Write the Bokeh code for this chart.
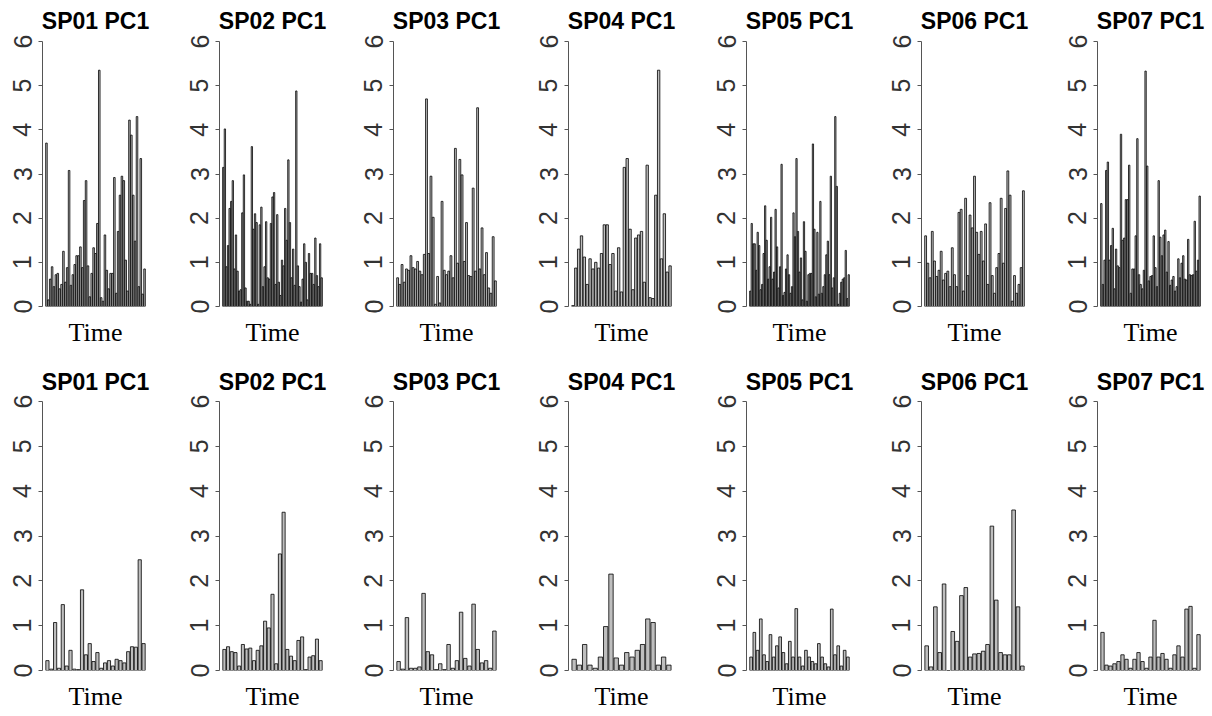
from bokeh.plotting import figure
from bokeh.layouts import row, column
from bokeh.models import Range1d, FixedTicker
from bokeh.embed import file_html
from bokeh.resources import INLINE

panel_titles = ["SP01 PC1", "SP02 PC1", "SP03 PC1", "SP04 PC1", "SP05 PC1", "SP06 PC1", "SP07 PC1"]
y_ticks = [0, 1, 2, 3, 4, 5, 6]
x_label = "Time"

top_sp01 = [3.7, 0.15, 0.62, 0.9, 0.45, 0.72, 0.75, 0.4, 0.5, 1.25, 0.55, 0.88, 3.08, 0.48, 0.72, 0.95,
            1.15, 1.15, 1.35, 0.88, 2.4, 2.85, 0.92, 0.22, 0.75, 1.33, 1.2, 1.88, 5.35, 0.2, 0.12, 1.62,
            0.82, 0.4, 0.75, 0.75, 2.92, 0.3, 1.7, 2.52, 2.95, 2.85, 1.05, 0.35, 4.22, 3.88, 2.52, 1.48,
            4.3, 0.45, 3.35, 0.28, 0.85]
top_sp02 = [3.15, 4.02, 0.9, 1.38, 2.22, 2.38, 2.85, 0.85, 1.62, 0.8, 0.35, 0.38, 2.12, 2.98, 0.42, 0.12,
            0.12, 0.05, 3.62, 1.75, 2.1, 1.9, 0.05, 1.85, 2.25, 0.45, 0.9, 1.92, 0.65, 0.62, 1.88, 2.48,
            2.58, 0.5, 2.08, 0.55, 0.25, 1.05, 0.92, 2.22, 1.5, 3.32, 1.9, 0.65, 1.3, 0.48, 4.88, 0.92,
            0.45, 0.1, 0.62, 1.42, 1.0, 0.15, 1.2, 0.75, 0.75, 0.5, 1.55, 0.7, 0.45, 1.42, 0.65]
top_sp03 = [0.65, 0.5, 0.95, 0.55, 0.85, 0.82, 1.15, 0.88, 0.85, 1.02, 0.8, 0.72, 1.18, 4.7, 1.2, 2.95,
            2.02, 0.05, 0.68, 0.08, 2.38, 0.82, 0.72, 0.8, 1.15, 0.65, 3.58, 0.98, 3.33, 2.98, 1.02, 1.9,
            0.7, 0.68, 2.68, 0.8, 4.5, 0.85, 1.78, 0.72, 1.22, 0.42, 0.3, 1.58, 0.58]
top_sp04 = [0.02, 0.87, 1.3, 1.6, 1.12, 0.5, 1.08, 0.85, 1.0, 0.87, 1.2, 1.85, 1.85, 0.95, 1.2, 0.35,
            1.33, 0.33, 3.15, 3.35, 1.75, 0.38, 1.55, 1.62, 1.7, 0.55, 3.2, 0.2, 0.18, 2.52, 5.35, 1.08,
            2.1, 0.78, 0.92]
top_sp05 = [0.35, 1.88, 1.42, 1.42, 0.82, 1.68, 1.38, 0.38, 0.5, 1.2, 2.28, 1.5, 0.62, 0.9, 2.02, 0.62,
            0.78, 2.2, 1.35, 0.42, 0.9, 3.22, 0.25, 0.32, 0.85, 1.17, 0.72, 0.3, 0.45, 2.12, 1.58, 3.35,
            1.7, 0.78, 1.1, 0.15, 1.92, 1.25, 0.12, 0.72, 0.75, 0.75, 3.68, 1.75, 0.22, 1.68, 0.28, 2.38,
            0.3, 0.45, 0.72, 1.17, 1.48, 0.72, 2.95, 0.42, 0.65, 4.3, 2.72, 0.05, 0.3, 0.55, 0.62, 0.65,
            1.27, 0.18, 0.72]
top_sp06 = [1.6, 0.98, 0.65, 1.7, 1.03, 0.68, 0.82, 1.25, 0.6, 0.75, 0.8, 0.45, 1.33, 0.72, 0.45, 2.13,
            2.2, 0.35, 2.45, 0.7, 2.07, 1.78, 2.95, 1.68, 1.18, 1.7, 1.03, 1.87, 0.5, 2.35, 0.7, 0.3,
            0.88, 1.2, 2.45, 0.98, 2.22, 3.07, 2.52, 0.12, 0.7, 0.3, 0.5, 0.88, 2.62]
top_sp07 = [2.33, 0.5, 1.05, 3.08, 3.27, 1.05, 1.38, 1.77, 0.4, 1.3, 0.92, 0.88, 3.9, 1.5, 1.55, 2.42,
            2.42, 3.2, 0.3, 0.85, 0.85, 1.6, 3.8, 0.72, 0.5, 0.4, 0.82, 5.33, 3.18, 0.58, 0.68, 0.7,
            1.6, 0.88, 0.45, 2.85, 1.57, 1.15, 1.62, 1.73, 0.78, 1.47, 0.48, 0.6, 0.68, 0.35, 0.45, 1.08,
            0.65, 0.98, 1.15, 0.62, 0.6, 1.52, 0.72, 0.7, 0.72, 1.93, 0.8, 1.05, 2.5]

bottom_sp01 = [0.22, 0.03, 1.07, 0.05, 1.47, 0.1, 0.45, 0.03, 0.02, 1.8, 0.35, 0.6, 0.2, 0.4, 0.05, 0.17,
               0.22, 0.1, 0.25, 0.22, 0.17, 0.42, 0.53, 0.52, 2.47, 0.6]
bottom_sp02 = [0.47, 0.53, 0.42, 0.4, 0.1, 0.58, 0.48, 0.5, 0.22, 0.45, 0.55, 1.1, 0.95, 1.7, 0.15, 2.6,
               3.53, 0.47, 0.32, 0.22, 0.67, 0.75, 0.02, 0.3, 0.33, 0.7, 0.22]
bottom_sp03 = [0.2, 0.03, 1.18, 0.05, 0.05, 0.08, 1.72, 0.42, 0.35, 0.02, 0.15, 0.02, 0.58, 0.05, 0.22, 1.3,
               0.27, 0.1, 1.48, 0.47, 0.17, 0.22, 0.05, 0.88]
bottom_sp04 = [0.25, 0.12, 0.58, 0.12, 0.05, 0.3, 0.98, 2.15, 0.28, 0.12, 0.4, 0.3, 0.45, 0.58, 1.15, 1.07,
               0.12, 0.3, 0.12]
bottom_sp05 = [0.3, 0.85, 0.45, 1.15, 0.35, 0.2, 0.8, 0.3, 0.55, 0.75, 0.4, 0.15, 0.65, 0.3, 1.38, 0.3,
               0.1, 0.45, 0.3, 0.2, 0.15, 0.6, 0.3, 0.15, 0.08, 1.37, 0.35, 0.55, 0.1, 0.45, 0.3]
bottom_sp06 = [0.55, 0.08, 1.42, 0.4, 1.93, 0.0, 0.87, 0.65, 1.67, 1.85, 0.3, 0.37, 0.38, 0.43, 0.58, 3.22,
               1.57, 0.4, 0.35, 0.35, 3.58, 1.42, 0.1]
bottom_sp07 = [0.85, 0.12, 0.1, 0.15, 0.2, 0.35, 0.25, 0.05, 0.25, 0.4, 0.2, 0.05, 0.3, 1.12, 0.3, 0.38,
               0.25, 0.05, 0.35, 0.55, 0.3, 1.37, 1.43, 0.05, 0.8]

top_series = [top_sp01, top_sp02, top_sp03, top_sp04, top_sp05, top_sp06, top_sp07]
bottom_series = [bottom_sp01, bottom_sp02, bottom_sp03, bottom_sp04, bottom_sp05, bottom_sp06, bottom_sp07]

fig_widths = [175, 174, 175, 178, 175, 176, 159]
left_borders = [42, 44, 44, 44, 44, 44, 44]
FRAME_W = 106


def make_panel(title, values, col, height, border_top, border_bottom, title_standoff):
    n = len(values)
    pad = 0.03 * n
    w = fig_widths[col]
    lb = left_borders[col]
    p = figure(width=w, height=height, output_backend="svg", toolbar_location=None,
               x_range=Range1d(0.5 - pad, n + 0.5 + pad), y_range=Range1d(0, 6),
               min_border_left=lb, min_border_right=w - lb - FRAME_W,
               min_border_top=border_top, min_border_bottom=border_bottom,
               title=title)
    p.vbar(x=list(range(1, n + 1)), top=values, bottom=0, width=0.83,
           fill_color="#bebebe", line_color="black", line_width=0.8)
    p.title.align = "center"
    p.title.vertical_align = "top"
    p.title.text_font = "Liberation Sans"
    p.title.text_font_size = "23px"
    p.title.text_font_style = "bold"
    p.title.text_color = "black"
    p.title.standoff = title_standoff
    p.outline_line_color = None
    p.xgrid.visible = False
    p.ygrid.visible = False
    p.background_fill_color = "white"
    p.border_fill_color = "white"

    ya = p.yaxis[0]
    ya.ticker = FixedTicker(ticks=y_ticks)
    ya.minor_tick_line_color = None
    ya.major_tick_in = 0
    ya.major_tick_out = 4
    ya.major_label_standoff = 7
    ya.major_label_orientation = "parallel"
    ya.major_label_text_font = "Liberation Sans"
    ya.major_label_text_font_size = "25px"
    ya.major_label_text_color = "#333333"
    ya.axis_line_color = "#555555"
    ya.major_tick_line_color = "#555555"

    xa = p.xaxis[0]
    xa.ticker = FixedTicker(ticks=[])
    xa.axis_line_color = None
    xa.major_tick_line_color = None
    xa.minor_tick_line_color = None
    xa.major_label_text_font_size = "0px"
    xa.axis_label = x_label
    xa.axis_label_text_font = "Liberation Serif"
    xa.axis_label_text_font_style = "normal"
    xa.axis_label_text_font_size = "26px"
    xa.axis_label_text_color = "black"
    xa.axis_label_standoff = 11
    return p


top_row = [make_panel(panel_titles[i], top_series[i], i, 364, 41, 58, 12) for i in range(7)]
bottom_row = [make_panel(panel_titles[i], bottom_series[i], i, 352, 37, 46, 9) for i in range(7)]

layout = column(row(*top_row), row(*bottom_row))
open("out.html", "w").write(file_html(layout, INLINE))
